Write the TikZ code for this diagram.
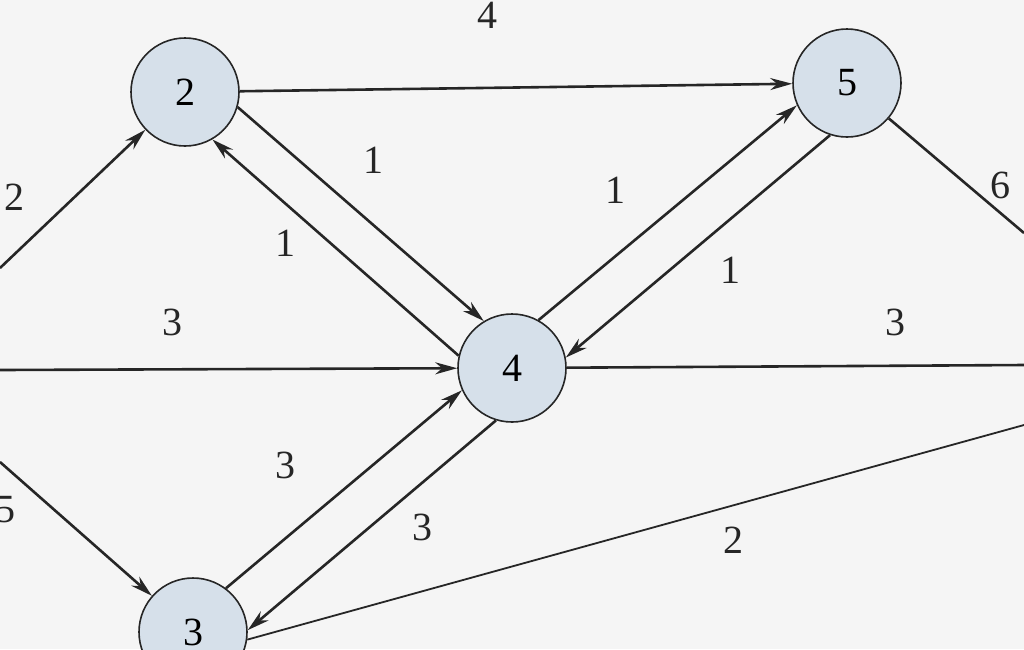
\documentclass[tikz,border=0pt]{standalone}
\usepackage{fontspec}
\setmainfont{Liberation Serif}
\usetikzlibrary{arrows.meta}
\definecolor{nodefill}{HTML}{D6E0EA}
\begin{document}
\begin{tikzpicture}[x=1pt,y=-1pt,
  vert/.style={circle,draw=black!85,line width=1.6pt,fill=nodefill,minimum size=108pt,inner sep=0pt,font=\fontsize{40}{40}\selectfont},
  edge/.style={line width=2.6pt,draw=black!85,-{Stealth[length=22pt,width=12pt]}},
  plain/.style={line width=2.6pt,draw=black!85},
  lab/.style={font=\fontsize{40}{40}\selectfont,text=black!85}]
\fill[gray!8] (0,0) rectangle (1024,649);
\useasboundingbox (0,0) rectangle (1024,649);
\node[vert] (n2) at (185,92) {2};
\node[vert] (n5) at (847,83) {5};
\node[vert] (n4) at (512,368) {4};
\node[vert] (n3) at (193,632) {3};
\coordinate (l2) at (0,268);
\coordinate (l4) at (0,370);
\coordinate (l3) at (0,462);
\coordinate (r5) at (1024,233);
\coordinate (r4) at (1024,365);
\coordinate (r3) at (1024,425);
\draw[edge] (n2) -- (n5);
\draw[edge] (l2) -- (n2);
\draw[edge] (n2.-16) -- (n4.121);
\draw[edge] (n4.167) -- (n2.-60);
\draw[edge] (n4.61) -- (n5.-156);
\draw[edge] (n5.-108) -- (n4.11);
\draw[plain] (n5) -- (r5);
\draw[edge] (l4) -- (n4);
\draw[plain] (n4) -- (r4);
\draw[edge] (l3) -- (n3);
\draw[edge] (n3.53) -- (n4.-156);
\draw[edge] (n4.-107) -- (n3.2);
\draw[line width=1.8pt,draw=black!85] (n3.-8) -- (r3);
\node[lab] (a) at (487,15) {4};
\node[lab] (b) at (15,197) {2};
\node[lab] (c) at (373,160) {1};
\node[lab] (d) at (285,243) {1};
\node[lab] (e) at (615,190) {1};
\node[lab] (f) at (730,270) {1};
\node[lab] (g) at (1000,185) {6};
\node[lab] (h) at (172,322) {3};
\node[lab] (i) at (895,322) {3};
\node[lab] (j) at (5,510) {5};
\node[lab] (k) at (285,465) {3};
\node[lab] (m) at (422,527) {3};
\node[lab] (o) at (733,540) {2};
\end{tikzpicture}
\end{document}
